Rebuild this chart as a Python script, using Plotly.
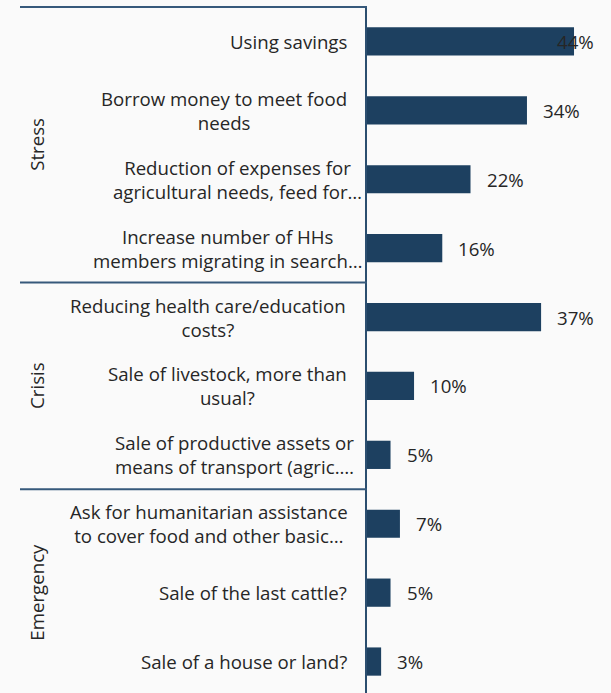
import plotly.graph_objects as go

# ---- data ----
categories = [
    "Using savings",
    "Borrow money to meet food<br>needs",
    "Reduction of expenses for<br>agricultural needs, feed for…",
    "Increase number of HHs<br>members migrating in search…",
    "Reducing health care/education<br>costs?",
    "Sale of livestock, more than<br>usual?",
    "Sale of productive assets or<br>means of transport (agric.…",
    "Ask for humanitarian assistance<br>to cover food and other basic…",
    "Sale of the last cattle?",
    "Sale of a house or land?",
]
values = [44, 34, 22, 16, 37, 10, 5, 7, 5, 3]
value_labels = ["44%", "34%", "22%", "16%", "37%", "10%", "5%", "7%", "5%", "3%"]
groups = ["Stress", "Crisis", "Emergency"]
group_sizes = [4, 3, 3]

# ---- styling / layout ----
W, H = 611, 693
ML, MT = 367, 7
plot_w = W - ML
plot_h = H - MT
px_per_unit_x = 4.705
px_per_cat = 68.9
x_max = plot_w / px_per_unit_x
y_bottom = -0.5 + plot_h / px_per_cat

bar_color = "#1d4060"
axis_color = "#2b4e6f"
sep_color = "#36597b"
text_color = "#262626"
bg = "#fafafa"
font_family = "Open Sans, Noto Sans, sans-serif"
fs = 18.67

label_right_px = [347, 347, 362, 362, 346, 347, 354, 348, 347, 347]
value_label_shift = [-19, 14, 14, 14, 14, 14, 14, 14, 14, 14]
value_label_anchor = ["left"] * 10


def xpaper(px):
    return (px - ML) / plot_w


def ypaper(cat_pos):
    return 1 - (cat_pos + 0.5) / (y_bottom + 0.5)


fig = go.Figure()
fig.add_trace(go.Bar(
    x=values, y=categories, orientation="h",
    marker=dict(color=bar_color, line=dict(width=0)),
    width=0.41, hoverinfo="skip", showlegend=False,
))

annotations = []
for i, cat in enumerate(categories):
    annotations.append(dict(
        x=0, xref="paper", y=cat, yref="y", text=cat,
        xanchor="right", yanchor="middle", align="center",
        xshift=label_right_px[i] - ML + 2, showarrow=False,
        font=dict(family=font_family, size=fs, color=text_color),
    ))
    annotations.append(dict(
        x=values[i], xref="x", y=cat, yref="y", text=value_labels[i],
        xanchor=value_label_anchor[i], yanchor="middle",
        xshift=value_label_shift[i], showarrow=False,
        font=dict(family=font_family, size=fs, color=text_color),
    ))

shapes = []
start = 0
bounds = [-0.5]
for g, n in zip(groups, group_sizes):
    mid = start + (n - 1) / 2
    annotations.append(dict(
        x=xpaper(37), xref="paper", y=ypaper(mid), yref="paper", text=g,
        textangle=-90, xanchor="center", yanchor="middle", showarrow=False,
        font=dict(family=font_family, size=fs, color=text_color),
    ))
    start += n
    bounds.append(start - 0.5)

for b in bounds[:-1]:
    shapes.append(dict(
        type="line", xref="paper", yref="paper",
        x0=xpaper(20), x1=0, y0=ypaper(b), y1=ypaper(b),
        line=dict(color=sep_color, width=2),
    ))

fig.update_layout(
    width=W, height=H,
    margin=dict(l=ML, r=0, t=MT, b=0, pad=0),
    paper_bgcolor=bg, plot_bgcolor=bg,
    xaxis=dict(range=[0, x_max], showgrid=False, zeroline=False,
               showticklabels=False, showline=False, fixedrange=True),
    yaxis=dict(type="category", categoryorder="array", categoryarray=categories,
               range=[y_bottom, -0.5], showgrid=False, zeroline=False,
               showticklabels=False, showline=True, linecolor=axis_color,
               linewidth=2, ticks="", fixedrange=True),
    annotations=annotations,
    shapes=shapes,
    bargap=0.59,
)

fig.write_html("out.html")
